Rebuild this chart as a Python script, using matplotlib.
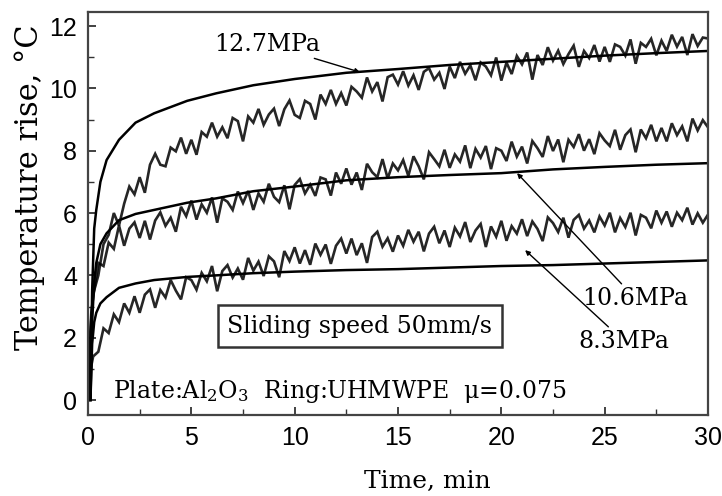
import numpy as np
import matplotlib
matplotlib.use("Agg")
import matplotlib.pyplot as plt

plt.rcParams['font.family'] = ['DejaVu Serif']
plt.rcParams['mathtext.fontset'] = 'dejavuserif'

# ---------------- data ----------------
# experimental sampling grid (min)
t_start = [0.0, 0.08, 0.16]
t_grid = list(np.round(np.arange(1, 121) * 0.25, 2))

exp_127_start = [0.0, 1.6, 2.6]
exp_127 = [3.4, 4.0, 5.0, 5.3, 6.0, 5.6, 6.3, 6.85, 6.6, 7.15,
           6.65, 7.55, 7.9, 7.55, 7.5, 8.1, 7.98, 8.42, 7.9, 8.35,
           7.87, 8.6, 8.45, 8.9, 8.45, 8.75, 8.4, 9.05, 8.95, 8.3,
           9.1, 8.9, 9.34, 8.83, 9.16, 9.35, 8.79, 9.33, 9.61, 9.15,
           9.05, 9.6, 9.5, 9.0, 9.8, 9.5, 9.95, 9.5, 9.85, 9.45,
           10.05, 9.9, 9.7, 10.35, 9.9, 10.2, 9.58, 10.36, 10.44, 10.12,
           10.55, 10.09, 10.42, 9.95, 10.53, 10.65, 10.28, 10.5, 9.98, 10.7,
           10.33, 10.85, 10.47, 10.74, 10.26, 10.83, 10.7, 10.42, 10.99, 10.25,
           10.83, 10.46, 11.04, 10.77, 11.15, 10.28, 11.07, 10.75, 11.32, 10.89,
           11.21, 10.78, 11.1, 11.37, 10.69, 11.2, 10.97, 11.39, 10.86, 11.33,
           10.85, 11.41, 11.33, 11.05, 11.57, 10.79, 11.46, 11.33, 11.59, 11.06,
           11.53, 11.2, 11.72, 11.34, 11.65, 11.07, 11.74, 11.36, 11.63, 11.6]

exp_106_start = [0.0, 1.8, 2.8]
exp_106 = [3.3, 4.4, 4.3, 5.05, 4.85, 5.6, 4.95, 5.5, 5.7, 5.2,
           5.75, 5.15, 5.76, 6.02, 5.59, 5.85, 5.4, 6.2, 5.9, 6.4,
           5.79, 6.28, 6.01, 6.5, 5.69, 6.47, 6.36, 6.1, 6.69, 6.32,
           6.71, 6.1, 6.63, 6.36, 6.94, 6.52, 6.35, 6.89, 6.12, 6.9,
           7.09, 6.63, 6.91, 6.55, 7.14, 7.08, 6.56, 7.3, 6.94, 7.43,
           6.91, 7.3, 6.74, 7.58, 7.31, 7.15, 7.73, 7.11, 7.59, 7.37,
           7.7, 7.19, 7.82, 7.5, 7.08, 7.95, 7.73, 7.5, 8.03, 7.45,
           7.88, 7.65, 8.17, 7.44, 8.06, 7.78, 8.15, 7.41, 8.08, 8.0,
           7.67, 8.29, 7.81, 8.13, 7.59, 8.31, 8.08, 7.8, 8.47, 7.99,
           8.36, 7.63, 8.35, 8.12, 8.53, 8.0, 8.37, 7.89, 8.56, 8.33,
           8.15, 8.67, 8.03, 8.5, 8.68, 7.95, 8.68, 8.4, 8.83, 8.3,
           8.73, 8.3, 8.88, 8.5, 8.78, 8.3, 9.03, 8.65, 8.98, 8.75]

exp_83_start = [0.0, 0.7, 1.1]
exp_83 = [1.4, 1.55, 2.3, 2.15, 2.75, 2.5, 3.1, 2.8, 3.33, 2.8,
          3.38, 3.55, 2.96, 3.53, 3.29, 3.85, 3.51, 3.23, 3.94, 3.85,
          3.54, 4.08, 3.81, 4.3, 3.49, 4.14, 4.33, 3.93, 4.22, 3.86,
          4.56, 4.15, 4.44, 3.98, 4.61, 4.45, 3.94, 4.78, 4.46, 4.9,
          4.38, 4.81, 4.34, 5.02, 4.66, 4.99, 4.37, 4.95, 5.18, 4.7,
          5.18, 4.65, 5.03, 4.4, 5.23, 5.4, 4.92, 5.19, 4.76, 5.28,
          4.95, 5.46, 5.08, 5.4, 4.77, 5.34, 5.56, 5.03, 5.44, 4.91,
          5.53, 5.25, 5.71, 5.07, 5.44, 5.65, 4.91, 5.57, 5.24, 5.75,
          5.11, 5.58, 5.34, 5.8, 5.26, 5.73, 5.49, 5.1, 5.86, 5.68,
          5.39, 5.85, 5.21, 5.78, 5.94, 5.5, 5.76, 5.38, 5.89, 5.6,
          6.01, 5.38, 5.84, 5.55, 6.01, 5.28, 5.94, 5.85, 5.51, 6.08,
          5.69, 6.05, 5.56, 6.01, 5.77, 6.17, 5.63, 5.99, 5.69, 5.95]

# theoretical (smooth) curves
t_model = [0.12, 0.2, 0.3, 0.4, 0.6, 0.9, 1.5, 2.3, 3.2, 4.8, 6.2, 8, 10,
           12.5, 15, 17.5, 20, 22.5, 25, 27.5, 30]
model_127 = [0.0, 3.5, 5.5, 6.1, 7.0, 7.7, 8.35, 8.9, 9.2, 9.6, 9.84, 10.1,
             10.3, 10.5, 10.62, 10.75, 10.85, 10.95, 11.05, 11.13, 11.2]
model_106 = [0.0, 2.5, 3.8, 4.4, 5.0, 5.35, 5.77, 5.97, 6.1, 6.33, 6.47, 6.7,
             6.85, 7.05, 7.15, 7.22, 7.28, 7.4, 7.48, 7.55, 7.6]
model_83 = [0.0, 1.8, 2.5, 2.8, 3.1, 3.3, 3.6, 3.74, 3.85, 3.95, 4.0, 4.07,
            4.12, 4.17, 4.2, 4.25, 4.3, 4.33, 4.38, 4.43, 4.48]

labels = ["12.7MPa", "10.6MPa", "8.3MPa"]

# ---------------- figure ----------------
fig = plt.figure(figsize=(7.22, 4.96), dpi=100)
ax = fig.add_axes([88 / 722, 81 / 496, 620 / 722, 403 / 496])

t_exp = t_start + t_grid
for s, v in [(exp_127_start, exp_127), (exp_106_start, exp_106), (exp_83_start, exp_83)]:
    ax.plot(t_exp, s + v, color='black', lw=1.9, alpha=0.85, solid_joinstyle='miter')

for m in (model_127, model_106, model_83):
    ax.plot(t_model, m, color='black', lw=1.8)

ax.set_xlim(0, 30)
ax.set_ylim(-0.48, 12.45)
ax.set_xticks([0, 5, 10, 15, 20, 25, 30])
ax.set_yticks([0, 2, 4, 6, 8, 10, 12])
ax.set_xticks(np.arange(2.5, 30, 5), minor=True)
ax.set_yticks(np.arange(1, 12.5, 2), minor=True)
ax.tick_params(which='both', direction='in', top=False, right=False,
               colors='#333333', labelcolor='black')
ax.tick_params(which='major', length=6, width=1.3, pad=8, labelsize=18,
               labelfontfamily='Liberation Sans')
ax.tick_params(which='minor', length=4, width=1.0)
for sp in ax.spines.values():
    sp.set_linewidth(1.6)
    sp.set_color('#444444')

ax.set_xlabel("Time, min", fontsize=18, va='center')
ax.xaxis.set_label_coords(0.548, -0.164)
ax.set_ylabel("Temperature rise, °C", fontsize=22, va='center')
ax.yaxis.set_label_coords(-0.095, 0.566)

arrow = dict(arrowstyle='-|>', color='black', lw=1.0, mutation_scale=7,
             shrinkA=0, shrinkB=0)
ax.annotate(labels[0], xy=(13.16, 10.52), xytext=(8.66, 11.42), fontsize=17,
            ha='center', va='center', arrowprops=arrow)
ax.annotate(labels[1], xy=(20.76, 7.28), xytext=(26.47, 3.27), fontsize=17,
            ha='center', va='center', arrowprops=arrow)
ax.annotate(labels[2], xy=(21.15, 4.81), xytext=(25.93, 1.89), fontsize=17,
            ha='center', va='center', arrowprops=arrow)

ax.text(13.16, 2.37, "Sliding speed 50mm/s", fontsize=17, ha='center', va='center',
        bbox=dict(boxstyle='square,pad=0.4', fc='white', ec='#333333', lw=1.8))
ax.text(1.21, 0.064, "Plate:Al$_2$O$_3$  Ring:UHMWPE  μ=0.075", fontsize=17,
        ha='left', va='baseline')

fig.savefig("out.png", dpi=100)
